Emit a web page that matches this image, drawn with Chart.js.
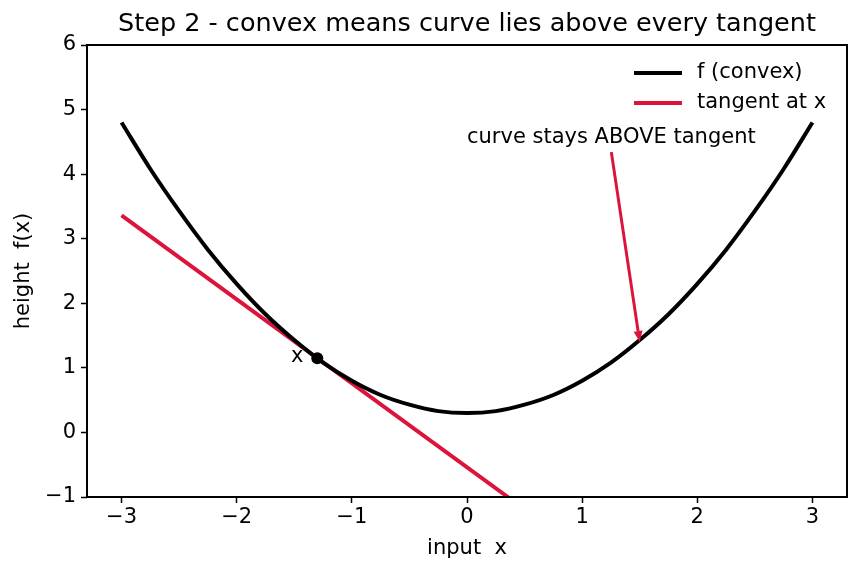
<!DOCTYPE html>
<html>
<head>
<meta charset="utf-8">
<script src="https://cdn.jsdelivr.net/npm/chart.js@4/dist/chart.umd.min.js"></script>
<style>
  html, body { margin: 0; padding: 0; background: #fff; }
  #wrap { width: 860px; height: 573px; }
</style>
</head>
<body>
<div id="wrap"><canvas id="convexChart" width="860" height="573"></canvas></div>
<script>
// values
const curveX = [-3, -2.75, -2.5, -2.25, -2, -1.75, -1.5, -1.25, -1, -0.75, -0.5, -0.25, 0,
                0.25, 0.5, 0.75, 1, 1.25, 1.5, 1.75, 2, 2.25, 2.5, 2.75, 3];
const curveY = [4.8, 4.08, 3.43, 2.83, 2.3, 1.83, 1.43, 1.08, 0.8, 0.58, 0.43, 0.33, 0.3,
                0.33, 0.43, 0.58, 0.8, 1.08, 1.43, 1.83, 2.3, 2.83, 3.43, 4.08, 4.8];
const tangentX = [-3, 0.37];
const tangentY = [3.36, -1.02];
const touchX = [-1.3];
const touchY = [1.15];
const xTicks = [-3, -2, -1, 0, 1, 2, 3];
const yTicks = [-1, 0, 1, 2, 3, 4, 5, 6];

const crimson = '#dc143c';
const font = '"DejaVu Sans", sans-serif';

function toPoints(xs, ys) {
  return xs.map((x, i) => ({ x: x, y: ys[i] }));
}
function fmt(v) {
  return v < 0 ? '\u2212' + Math.abs(v) : String(v);
}

// frame, title, axis titles, legend and annotation
const decorations = {
  id: 'decorations',
  afterDraw(chart) {
    const ctx = chart.ctx;
    const a = chart.chartArea;
    const xs = chart.scales.x, ys = chart.scales.y;
    ctx.save();

    ctx.strokeStyle = '#000';
    ctx.lineWidth = 2;
    ctx.strokeRect(a.left, a.top, a.right - a.left, a.bottom - a.top);

    ctx.fillStyle = '#000';
    ctx.font = '25.5px ' + font;
    ctx.textAlign = 'center';
    ctx.textBaseline = 'middle';
    ctx.fillText('Step 2 - convex means curve lies above every tangent', (a.left + a.right) / 2, 24);

    ctx.font = '21px ' + font;
    ctx.fillText('input  x', (a.left + a.right) / 2, 549);
    ctx.save();
    ctx.translate(24, (a.top + a.bottom) / 2);
    ctx.rotate(-Math.PI / 2);
    ctx.fillText('height  f(x)', 0, 0);
    ctx.restore();

    // legend
    ctx.textAlign = 'left';
    ctx.lineWidth = 4;
    ctx.strokeStyle = '#000';
    ctx.beginPath(); ctx.moveTo(634, 73); ctx.lineTo(682, 73); ctx.stroke();
    ctx.fillText('f (convex)', 697, 73);
    ctx.strokeStyle = crimson;
    ctx.beginPath(); ctx.moveTo(634, 103); ctx.lineTo(682, 103); ctx.stroke();
    ctx.fillText('tangent at x', 697, 103);

    // point label
    ctx.textAlign = 'right';
    ctx.fillText('x', xs.getPixelForValue(-1.42), ys.getPixelForValue(1.17));

    // annotation text + arrow
    ctx.textAlign = 'left';
    ctx.textBaseline = 'alphabetic';
    const tx = xs.getPixelForValue(0), ty = ys.getPixelForValue(4.48);
    ctx.fillText('curve stays ABOVE tangent', tx, ty);
    const w = ctx.measureText('curve stays ABOVE tangent').width;
    const sx = tx + w / 2, sy = ty + 9;
    const ex = xs.getPixelForValue(1.5), ey = ys.getPixelForValue(1.4);
    const ang = Math.atan2(ey - sy, ex - sx);
    const hl = 11, hw = 4.5;
    ctx.strokeStyle = crimson;
    ctx.fillStyle = crimson;
    ctx.lineWidth = 3;
    ctx.beginPath();
    ctx.moveTo(sx, sy);
    ctx.lineTo(ex - Math.cos(ang) * hl, ey - Math.sin(ang) * hl);
    ctx.stroke();
    ctx.beginPath();
    ctx.moveTo(ex, ey);
    ctx.lineTo(ex - Math.cos(ang) * hl - Math.sin(ang) * hw, ey - Math.sin(ang) * hl + Math.cos(ang) * hw);
    ctx.lineTo(ex - Math.cos(ang) * hl + Math.sin(ang) * hw, ey - Math.sin(ang) * hl - Math.cos(ang) * hw);
    ctx.closePath();
    ctx.fill();

    ctx.restore();
  }
};

const ctx = document.getElementById('convexChart').getContext('2d');
const convexChart = new Chart(ctx, {
  type: 'scatter',
  data: {
    datasets: [
      {
        label: 'x',
        data: toPoints(touchX, touchY),
        pointRadius: 6,
        pointBackgroundColor: '#000',
        pointBorderWidth: 0,
        showLine: false
      },
      {
        label: 'f (convex)',
        data: toPoints(curveX, curveY),
        showLine: true,
        borderColor: '#000',
        borderWidth: 4,
        pointRadius: 0,
        cubicInterpolationMode: 'monotone'
      },
      {
        label: 'tangent at x',
        data: toPoints(tangentX, tangentY),
        showLine: true,
        borderColor: crimson,
        borderWidth: 4,
        pointRadius: 0
      }
    ]
  },
  options: {
    responsive: false,
    animation: false,
    layout: { padding: { top: 45, right: 13, left: 0, bottom: 0 } },
    plugins: {
      legend: { display: false },
      tooltip: { enabled: false }
    },
    scales: {
      x: {
        type: 'linear',
        min: -3.3,
        max: 3.3,
        afterBuildTicks: (s) => { s.ticks = xTicks.map(v => ({ value: v })); },
        afterFit: (s) => { s.height = 76; },
        grid: { drawOnChartArea: false, tickLength: 6, tickWidth: 1.5, color: '#000' },
        border: { display: false },
        ticks: { color: '#000', font: { family: font, size: 21 }, padding: 2, callback: fmt, maxRotation: 0 }
      },
      y: {
        min: -1,
        max: 6,
        afterBuildTicks: (s) => { s.ticks = yTicks.map(v => ({ value: v })); },
        afterFit: (s) => { s.width = 87; },
        grid: { drawOnChartArea: false, tickLength: 6, tickWidth: 1.5, color: '#000' },
        border: { display: false },
        ticks: { color: '#000', font: { family: font, size: 21 }, padding: 5, callback: fmt }
      }
    }
  },
  plugins: [decorations]
});
</script>
</body>
</html>
